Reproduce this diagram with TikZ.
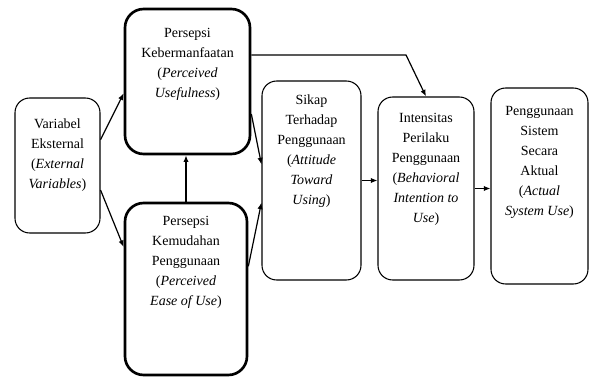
\documentclass[tikz,border=0pt]{standalone}
\usepackage{fontspec}
\setmainfont{Liberation Serif}
\usepackage{tikz}
\usetikzlibrary{arrows.meta,positioning,fit,calc}

\begin{document}
\begin{tikzpicture}[x=0.75pt,y=-0.75pt,
    model box/.style={draw, line width=0.8pt, rounded corners=11pt, inner sep=0pt},
    strong box/.style={model box, line width=2pt, rounded corners=14pt},
    box text/.style={align=center, inner sep=0pt, font=\fontsize{10.5}{15}\selectfont},
    link/.style={-{Latex[length=5pt,width=4pt]}, line width=0.9pt}]
	\useasboundingbox (0,0) rectangle (590,378);
	% Boxes
	\node[model box, fit={(15,98) (100,233)}] (ve) {};
	\node[strong box, fit={(125,9) (250,154)}] (pu) {};
	\node[strong box, fit={(125,203) (247,375)}] (peou) {};
	\node[model box, fit={(262,81) (361,280)}] (sikap) {};
	\node[model box, fit={(378,97) (474,280)}] (intens) {};
	\node[model box, fit={(491,88) (588,284)}] (aktual) {};
	
	% Texts
	\node[box text, below=15.5pt of ve.north] {Variabel\\Eksternal\\(\textit{External}\\\textit{Variables})};
	\node[box text, below=15.5pt of pu.north] {Persepsi\\Kebermanfaatan\\(\textit{Perceived}\\\textit{Usefulness})};
	\node[box text, below=11pt of peou.north] {Persepsi\\Kemudahan\\Penggunaan\\(\textit{Perceived}\\\textit{Ease of Use})};
	\node[box text, below=10.5pt of sikap.north] {Sikap\\Terhadap\\Penggunaan\\(\textit{Attitude}\\\textit{Toward}\\\textit{Using})};
	\node[box text, below=12pt of intens.north] {Intensitas\\Perilaku\\Penggunaan\\(\textit{Behavioral}\\\textit{Intention to}\\\textit{Use})};
	\node[box text, below=14pt of aktual.north] {Penggunaan\\Sistem\\Secara\\Aktual\\(\textit{Actual}\\\textit{System Use})};
	
	% Connectors
	\coordinate (puout) at ($(pu.north east)!0.32!(pu.south east)$);
	\coordinate (bend) at ([xshift=-15pt]intens.north |- puout);
	
	\draw[link] ($(ve.north east)!0.31!(ve.south east)$) -- ($(pu.north west)!0.58!(pu.south west)$);
	\draw[link] ($(ve.north east)!0.68!(ve.south east)$) -- ($(peou.north west)!0.26!(peou.south west)$);
	\draw[link] (peou.north) -- (peou.north |- pu.south);
	\draw[link] ($(pu.north east)!0.72!(pu.south east)$) -- ($(sikap.north west)!0.42!(sikap.south west)$);
	\draw[link] ($(peou.north east)!0.37!(peou.south east)$) -- ($(sikap.north west)!0.61!(sikap.south west)$);
	\draw[link] (puout) -- (bend) -- (intens.north);
	\draw[link] (sikap.east) -- (sikap.east -| intens.west);
	\draw[link] (intens.east) -- (intens.east -| aktual.west);
	
\end{tikzpicture}
\end{document}
